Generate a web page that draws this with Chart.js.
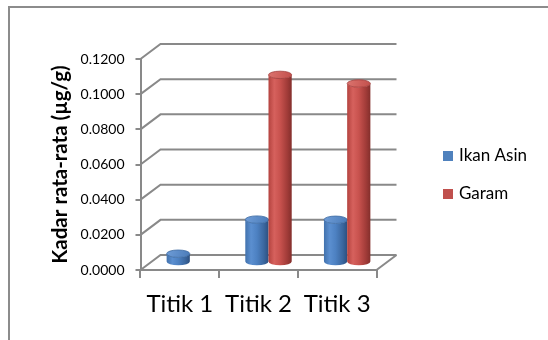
<!DOCTYPE html>
<html>
<head>
<meta charset="utf-8">
<script src="https://cdn.jsdelivr.net/npm/chart.js@4.4.1/dist/chart.umd.min.js"></script>
<style>
  html, body { margin: 0; padding: 0; background: #fff; }
  canvas { display: block; }
</style>
</head>
<body>
<canvas id="chart" width="548" height="340"></canvas>
<script>
// Data
const categories = ['Titik 1', 'Titik 2', 'Titik 3'];
const ikanAsin = [0.0050, 0.0244, 0.0243];
const garam = [null, 0.1067, 0.1018];
const seriesNames = ['Ikan Asin', 'Garam'];
const yTicks = [0, 0.02, 0.04, 0.06, 0.08, 0.10, 0.12];
const axisTitle = 'Kadar rata-rata (µg/g)';

// Styling
const FONT = 'Lato, "Open Sans", sans-serif';
const GRID = '#898989';
const DEPTH = { dx: 20, dy: -15 };   // offset of the back wall relative to the front plane

const shading = [
  { // blue cylinders
    base: '#4F81BD',
    body: [[0, '#4272ad'], [0.25, '#5b8fd0'], [0.5, '#4d81c2'], [0.8, '#3b679f'], [1, '#2d5080']],
    cap: ['#6f9dd8', '#4a7bb8'],
    rim: '#3b6aa2'
  },
  { // red cylinders
    base: '#C0504D',
    body: [[0, '#b4433f'], [0.25, '#d6615d'], [0.5, '#c8524e'], [0.8, '#a23c39'], [1, '#842f2c']],
    cap: ['#dc746f', '#c24f4b'],
    rim: '#a23e3b'
  }
];

Chart.defaults.font.family = FONT;

function drawCylinder(ctx, bar, pal) {
  const rx = bar.width / 2;
  const ry = rx * 0.32;
  const cx = bar.x + DEPTH.dx / 2;
  const top = bar.y + DEPTH.dy / 2;
  const bottom = bar.base + DEPTH.dy / 2;

  const g = ctx.createLinearGradient(cx - rx, 0, cx + rx, 0);
  pal.body.forEach(([o, c]) => g.addColorStop(o, c));
  ctx.beginPath();
  ctx.moveTo(cx - rx, top);
  ctx.lineTo(cx - rx, bottom);
  ctx.ellipse(cx, bottom, rx, ry, 0, Math.PI, 0, true);
  ctx.lineTo(cx + rx, top);
  ctx.ellipse(cx, top, rx, ry, 0, 0, Math.PI, false);
  ctx.closePath();
  ctx.fillStyle = g;
  ctx.fill();

  const tg = ctx.createLinearGradient(cx - rx, top - ry, cx + rx, top + ry);
  tg.addColorStop(0, pal.cap[0]);
  tg.addColorStop(1, pal.cap[1]);
  ctx.beginPath();
  ctx.ellipse(cx, top, rx, ry, 0, 0, Math.PI * 2);
  ctx.fillStyle = tg;
  ctx.fill();
  ctx.strokeStyle = pal.rim;
  ctx.lineWidth = 0.8;
  ctx.stroke();
}

// Outer frame, side/back walls, floor and the cylinders
const depth3d = {
  id: 'depth3d',
  beforeDraw(chart) {
    const ctx = chart.ctx;
    ctx.save();
    ctx.strokeStyle = '#8c8c8c';
    ctx.lineWidth = 2;
    ctx.beginPath();
    ctx.moveTo(9, chart.height + 2);
    ctx.lineTo(9, 7);
    ctx.lineTo(chart.width + 2, 7);
    ctx.stroke();
    ctx.restore();
  },
  beforeDatasetsDraw(chart) {
    const { ctx, chartArea: a, scales: { y } } = chart;
    ctx.save();
    ctx.strokeStyle = GRID;
    ctx.lineWidth = 2;
    y.ticks.forEach(t => {
      const py = y.getPixelForValue(t.value);
      ctx.beginPath();
      ctx.moveTo(a.left, py);
      ctx.lineTo(a.left + DEPTH.dx, py + DEPTH.dy);
      ctx.lineTo(a.right + DEPTH.dx, py + DEPTH.dy);
      ctx.stroke();
    });
    const p0 = y.getPixelForValue(0);
    ctx.beginPath();
    ctx.moveTo(a.right, p0);
    ctx.lineTo(a.right + DEPTH.dx, p0 + DEPTH.dy);
    ctx.stroke();

    chart.data.datasets.forEach((ds, i) => {
      chart.getDatasetMeta(i).data.forEach((bar, j) => {
        if (ds.data[j] == null) return;
        drawCylinder(ctx, bar, shading[i]);
      });
    });
    ctx.restore();
    return false;
  }
};

// Legend on the right side
const sideLegend = {
  id: 'sideLegend',
  afterDraw(chart) {
    const ctx = chart.ctx;
    ctx.save();
    ctx.font = '17px ' + FONT;
    ctx.textBaseline = 'middle';
    ctx.textAlign = 'left';
    chart.data.datasets.forEach((ds, i) => {
      const cy = 156 + i * 38;
      ctx.fillStyle = shading[i].base;
      ctx.fillRect(443, cy - 5, 10, 10);
      ctx.fillStyle = '#000';
      ctx.fillText(ds.label, 459, cy);
    });
    ctx.restore();
  }
};

new Chart(document.getElementById('chart'), {
  type: 'bar',
  data: {
    labels: categories,
    datasets: [
      { label: seriesNames[0], data: ikanAsin, backgroundColor: shading[0].base },
      { label: seriesNames[1], data: garam, backgroundColor: shading[1].base }
    ]
  },
  options: {
    responsive: false,
    animation: false,
    devicePixelRatio: 1,
    datasets: { bar: { categoryPercentage: 0.59, barPercentage: 1 } },
    layout: { padding: { left: 45, top: 59, right: 171.5, bottom: 0 } },
    plugins: { legend: { display: false }, tooltip: { enabled: false } },
    scales: {
      x: {
        grid: { display: true, drawOnChartArea: false, drawTicks: true, tickLength: 8, color: GRID, lineWidth: 2, offset: true },
        border: { display: true, color: GRID, width: 2 },
        ticks: { font: { size: 24 }, color: '#000', padding: 12, maxRotation: 0, autoSkip: false },
        afterFit: s => { s.height = 70; }
      },
      y: {
        min: 0,
        max: 0.12,
        afterBuildTicks: s => { s.ticks = yTicks.map(v => ({ value: v })); },
        grid: { display: true, drawOnChartArea: false, drawTicks: true, tickLength: 5, color: GRID, lineWidth: 2 },
        border: { display: true, color: GRID, width: 2 },
        ticks: { font: { size: 14 }, color: '#000', padding: 11, callback: v => Number(v).toFixed(4) },
        title: { display: true, text: axisTitle, color: '#000', font: { size: 20.5, weight: 'bold' }, padding: { top: 3, bottom: 4 } },
        afterFit: s => { s.width = 95.5; }
      }
    }
  },
  plugins: [depth3d, sideLegend]
});
</script>
</body>
</html>
